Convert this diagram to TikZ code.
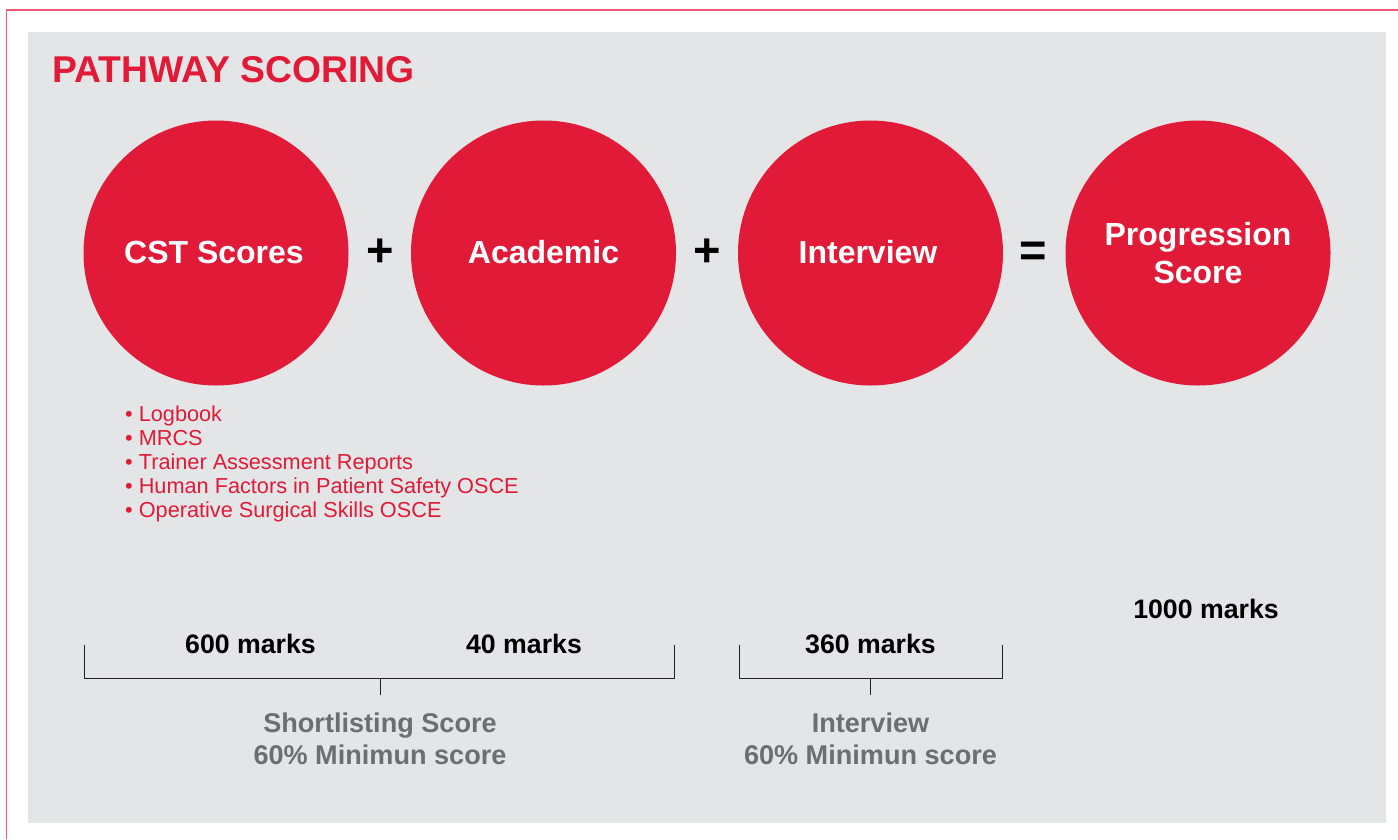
\documentclass[tikz,border=0pt]{standalone}
\usepackage{fontspec}
\setmainfont{Liberation Sans}
\definecolor{pwred}{HTML}{E11A38}
\definecolor{pwbg}{HTML}{E4E5E7}
\definecolor{pwborder}{HTML}{EE5A72}
\definecolor{pwgray}{HTML}{6D6E71}
\definecolor{pwline}{HTML}{231F20}
\tikzset{
  scorecircle/.style={circle, fill=pwred, draw=none, minimum size=265pt, inner sep=0pt},
  circletext/.style={text=white, font=\fontsize{32}{38}\selectfont\bfseries, align=center, inner sep=0pt},
  optext/.style={anchor=base, inner sep=0pt, font=\fontsize{47}{47}\selectfont\bfseries, text=black},
  markstext/.style={anchor=base, inner sep=0pt, font=\fontsize{26.7}{32}\selectfont\bfseries, text=black},
  graytext/.style={anchor=base, inner sep=0pt, font=\fontsize{27.1}{32}\selectfont\bfseries, text=pwgray, align=center},
  bullettext/.style={anchor=base west, inner sep=0pt, font=\fontsize{21.7}{24}\selectfont, text=pwred},
  bracketline/.style={draw=pwline, line width=1pt},
}
\begin{document}
\begin{tikzpicture}[x=1pt, y=-1pt]
\useasboundingbox (0,0) rectangle (1398,839);
\fill[white] (0,0) rectangle (1398,839);
% outer border (left and top visible)
\draw[pwborder, line width=1.6pt] (6.5,839) -- (6.5,10) -- (1398,10);
% grey panel
\fill[pwbg] (28,32) rectangle (1386,823);
% title
\node[anchor=base west, inner sep=0pt, font=\fontsize{37.3}{40}\selectfont\bfseries, text=pwred] (title) at (52.5,82.5) {PATHWAY SCORING};
% circles
\node[scorecircle] (cst) at (216,253) {};
\node[scorecircle] (acad) at (543.5,253) {};
\node[scorecircle] (intv) at (870.5,253) {};
\node[scorecircle] (prog) at (1198,253) {};
\node[circletext, anchor=base] (cstt) at (214,263) {CST Scores};
\node[circletext, anchor=base] (acadt) at (543.5,263) {Academic};
\node[circletext, anchor=base] (intvt) at (868,263) {Interview};
\node[circletext, anchor=base] (progt1) at (1198,245) {Progression};
\node[circletext, anchor=base] (progt2) at (1198,283) {Score};
% operators
\node[optext] (plus1) at (380,266) {+};
\node[optext] (plus2) at (707,266) {+};
\node[optext] (eq) at (1033,266) {=};
% bullets
\node[bullettext] (b1) at (125,421) {• Logbook};
\node[bullettext] (b2) at (125,445) {• MRCS};
\node[bullettext] (b3) at (125,469) {• Trainer Assessment Reports};
\node[bullettext] (b4) at (125,493) {• Human Factors in Patient Safety OSCE};
\node[bullettext] (b5) at (125,517) {• Operative Surgical Skills OSCE};
% marks
\node[markstext] (m600) at (250.5,653) {600 marks};
\node[markstext] (m40) at (524,653) {40 marks};
\node[markstext] (m360) at (870.5,653) {360 marks};
\node[markstext] (m1000) at (1206,618) {1000 marks};
% brackets
\coordinate (l1) at (84.5,645);
\coordinate (l2) at (84.5,678);
\coordinate (l3) at (674.5,678);
\coordinate (l4) at (674.5,645);
\coordinate (lt1) at (380.5,678);
\coordinate (lt2) at (380.5,695);
\draw[bracketline] (l1) -- (l2) -- (l3) -- (l4);
\draw[bracketline] (lt1) -- (lt2);
\coordinate (r1) at (739.5,645);
\coordinate (r2) at (739.5,678);
\coordinate (r3) at (1002,678);
\coordinate (r4) at (1002,645);
\coordinate (rt1) at (870.5,678);
\coordinate (rt2) at (870.5,695);
\draw[bracketline] (r1) -- (r2) -- (r3) -- (r4);
\draw[bracketline] (rt1) -- (rt2);
% grey captions
\node[graytext] (s1) at (380,732) {Shortlisting Score};
\node[graytext] (s2) at (380,764) {60\% Minimun score};
\node[graytext] (i1) at (870.5,732) {Interview};
\node[graytext] (i2) at (870.5,764) {60\% Minimun score};
\end{tikzpicture}
\end{document}
